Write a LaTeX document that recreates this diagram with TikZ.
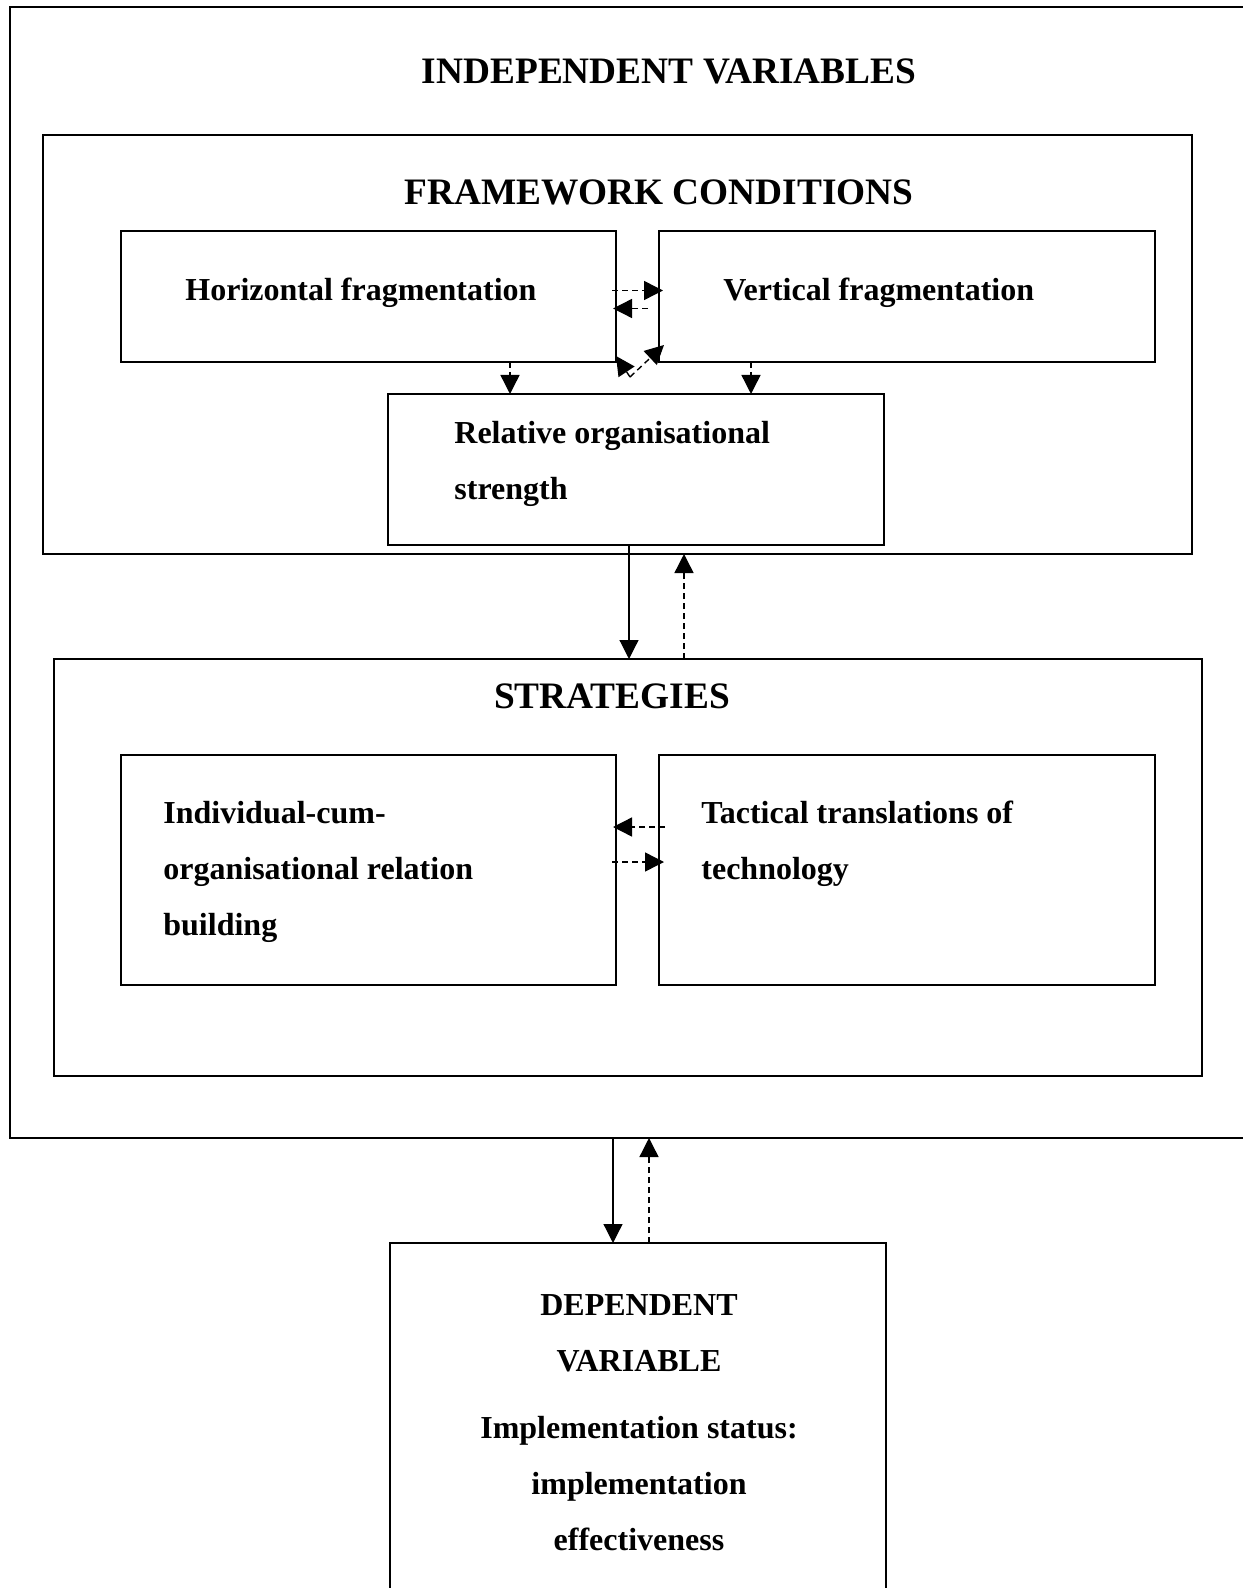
\documentclass[tikz,border=0pt]{standalone}
\usepackage{fontspec}
\setmainfont{Liberation Serif}
\usetikzlibrary{arrows.meta,calc}

\begin{document}
\begin{tikzpicture}[x=0.5pt, y=-0.5pt,
    box/.style={draw, line width=0.8pt, inner sep=0pt, outer sep=0pt},
    title/.style={font=\fontsize{18.67}{24}\selectfont\bfseries, inner sep=0pt},
    label/.style={font=\fontsize{16}{28}\selectfont\bfseries, inner sep=0pt},
    solidarrow/.style={-{Triangle[length=9.5pt,width=9.5pt]}, line width=0.6pt},
    dasharrow/.style={solidarrow, dash pattern=on 3pt off 2pt, line width=0.7pt}]
            \useasboundingbox (0,0) rectangle (1242,1588);

            % independent variables
            \node[box, minimum width=620pt, minimum height=565.5pt] (outer) at (630,572.5) {};
            \node[title, anchor=base] (indeptitle) at (669,84) {INDEPENDENT VARIABLES};

            % framework conditions
            \node[box, minimum width=574.5pt, minimum height=209.5pt] (frame) at (617.5,344.5) {};
            \node[title, anchor=base] (frametitle) at (659,205) {FRAMEWORK CONDITIONS};
            \node[box, minimum width=247.5pt, minimum height=65.5pt] (hfrag) at (368.5,296.5) {};
            \node[box, minimum width=248pt, minimum height=65.5pt] (vfrag) at (907,296.5) {};
            \node[box, minimum width=248pt, minimum height=75.5pt] (rel) at (636,469.5) {};
            \node[label, anchor=base west] (hfragtext) at (185,301) {Horizontal fragmentation};
            \node[label, anchor=base west] (vfragtext) at (723,301) {Vertical fragmentation};
            \node[label, anchor=north west, align=left] (reltext) at (454,421) {Relative organisational\\strength};

            % strategies
            \node[box, minimum width=574pt, minimum height=208.5pt] (strat) at (628,867.5) {};
            \node[title, anchor=base] (strattitle) at (612,708) {STRATEGIES};
            \node[box, minimum width=247.5pt, minimum height=115pt] (indiv) at (368.5,870) {};
            \node[box, minimum width=248pt, minimum height=115pt] (tact) at (907,870) {};
            \node[label, anchor=north west, align=left] (indivtext) at (163,801) {Individual-cum-\\organisational relation\\building};
            \node[label, anchor=north west, align=left] (tacttext) at (701,801) {Tactical translations of\\technology};

            % dependent variable
            \node[box, minimum width=248pt, minimum height=178.5pt] (dep) at (638,1421.5) {};
            \node[label, anchor=north, align=center] (deptext) at (639,1294) {DEPENDENT\\VARIABLE\\[5.5pt]Implementation status:\\implementation\\effectiveness};

            % arrows inside framework conditions
            \coordinate (vtip) at (630,377);
            \draw[dasharrow] ($(hfrag.east)+(-4,-6)$) -- ($(vfrag.west)+(4,-6)$);
            \draw[dasharrow] ($(vfrag.west)+(-11,12)$) -- ($(hfrag.east)+(-3,12)$);
            \draw[dasharrow] (vtip) -- ($(hfrag.south east)+(0,-6)$);
            \draw[dasharrow] (vtip) -- ($(vfrag.south west)+(5,-17)$);
            \draw[dasharrow] ($(hfrag.south west)+(389,0)$) -- ($(rel.north west)+(122,0)$);
            \draw[dasharrow] ($(vfrag.south west)+(92,0)$) -- ($(rel.north west)+(363,0)$);

            % arrows between framework conditions and strategies
            \draw[solidarrow] ($(rel.south)+(-7,0)$) -- ($(strat.north)+(1,0)$);
            \draw[dasharrow] ($(strat.north)+(56,0)$) -- ($(frame.south)+(66.5,0)$);

            % arrows inside strategies
            \draw[dasharrow] ($(tact.west)+(6,-43)$) -- ($(indiv.east)+(-3,-43)$);
            \draw[dasharrow] ($(indiv.east)+(-4,-8)$) -- ($(tact.west)+(5,-8)$);

            % arrows to the dependent variable
            \draw[solidarrow] ($(outer.south)+(-17,0)$) -- ($(dep.north)+(-25,0)$);
            \draw[dasharrow] ($(dep.north)+(11,0)$) -- ($(outer.south)+(19,0)$);
        \end{tikzpicture}
\end{document}
